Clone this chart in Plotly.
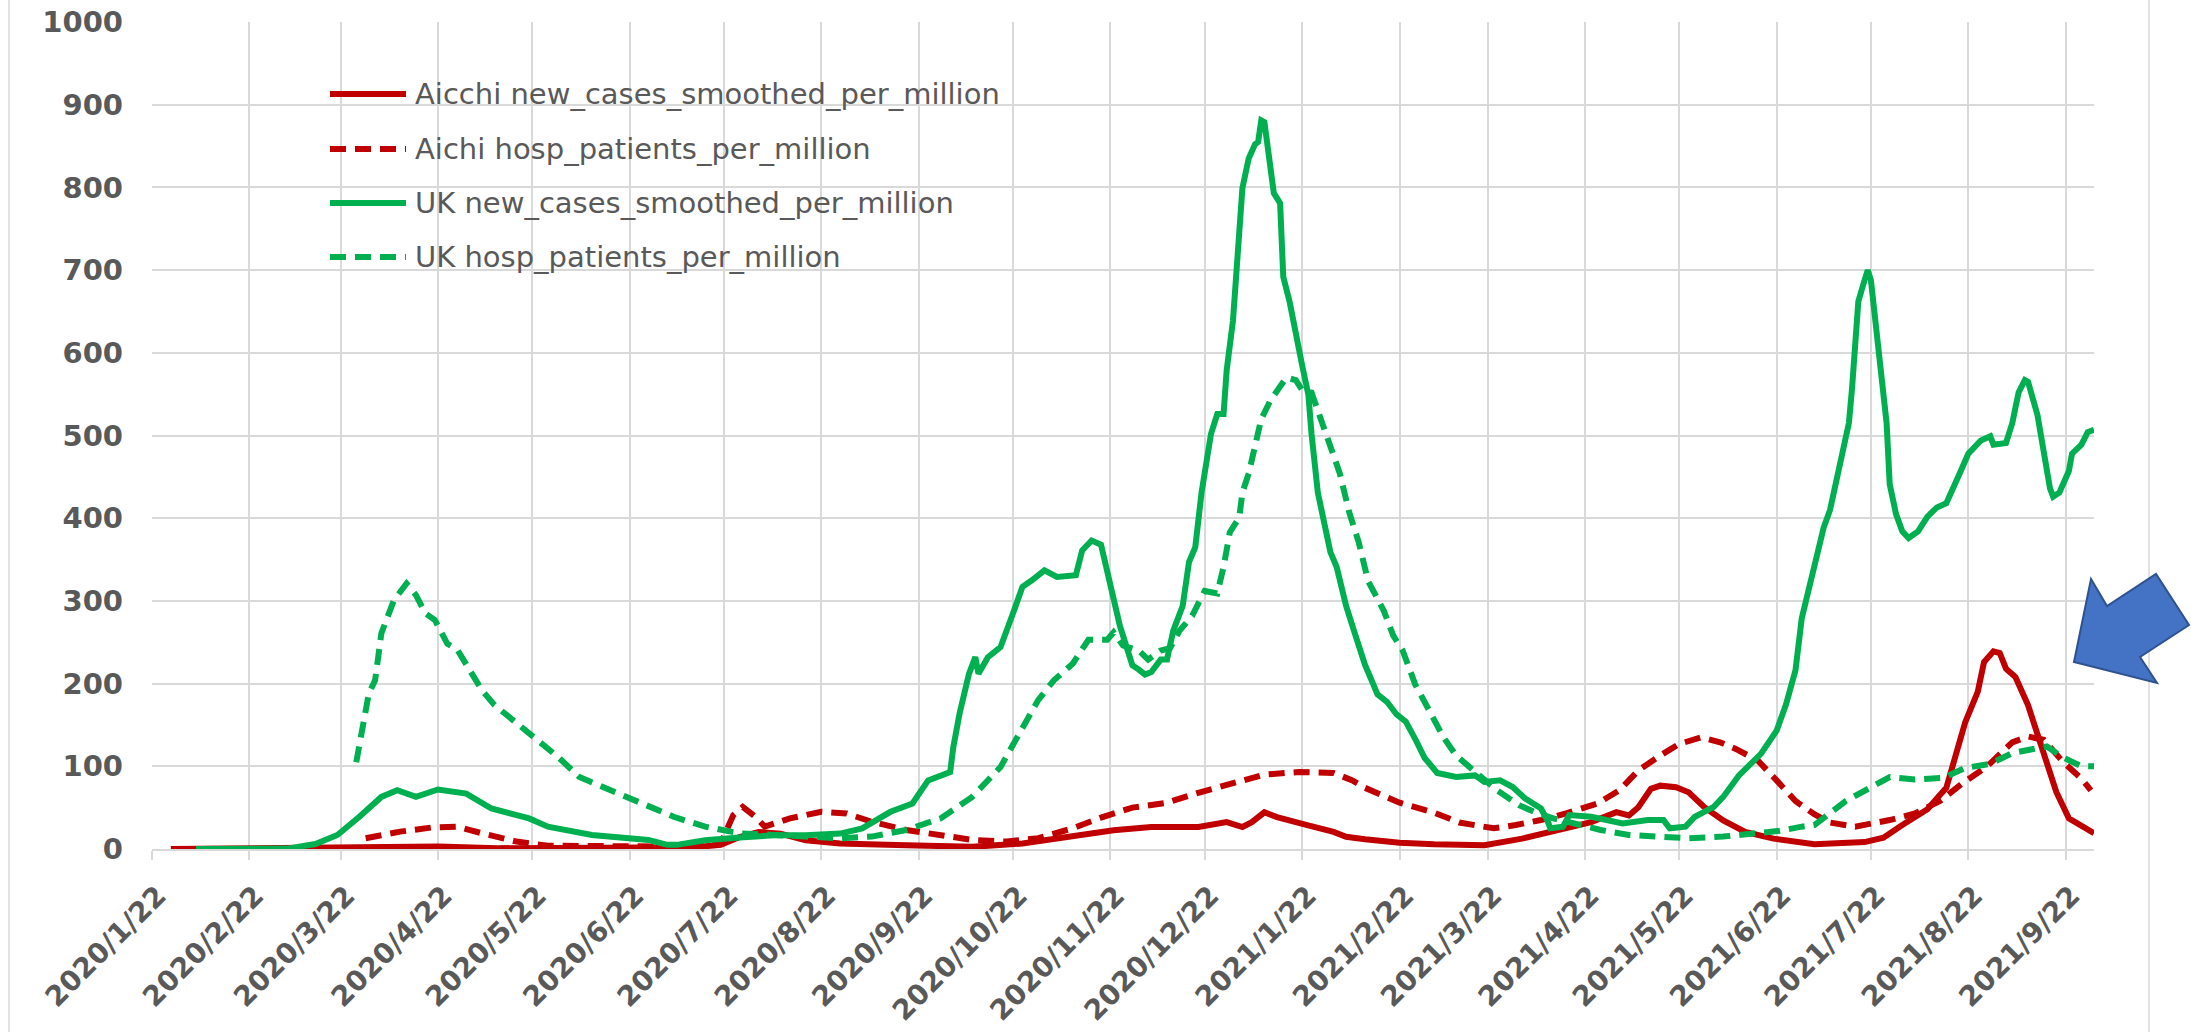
import plotly.graph_objects as go

# ---- Aichi: new cases (7-day smoothed) per million ----
aichi_cases_dates = [
    "2020-01-28", "2020-03-22", "2020-04-11", "2020-04-22", "2020-05-11", "2020-06-20",
    "2020-07-05", "2020-07-12", "2020-07-21", "2020-07-27", "2020-08-02", "2020-08-09",
    "2020-08-17", "2020-08-28", "2020-09-18", "2020-10-09", "2020-10-25", "2020-11-10",
    "2020-11-23", "2020-12-05", "2020-12-20", "2020-12-29", "2021-01-03", "2021-01-06",
    "2021-01-10", "2021-01-14", "2021-01-18", "2021-01-23", "2021-02-01", "2021-02-05",
    "2021-02-11", "2021-02-22", "2021-03-05", "2021-03-13", "2021-03-21", "2021-04-02",
    "2021-04-13", "2021-04-24", "2021-05-02", "2021-05-06", "2021-05-09", "2021-05-13",
    "2021-05-16", "2021-05-21", "2021-05-25", "2021-05-30", "2021-06-05", "2021-06-12",
    "2021-06-21", "2021-06-30", "2021-07-04", "2021-07-20", "2021-07-26", "2021-08-01",
    "2021-08-09", "2021-08-15", "2021-08-18", "2021-08-21", "2021-08-25", "2021-08-27",
    "2021-08-30", "2021-09-01", "2021-09-03", "2021-09-06", "2021-09-10", "2021-09-13",
    "2021-09-16", "2021-09-19", "2021-09-23", "2021-09-27", "2021-10-01",
]
aichi_cases = [
    0, 1, 3, 3, 1, 0.5,
    1, 2, 5, 14.5, 20.6, 18.6,
    10.6, 6.6, 4.6, 2.6, 6.6, 14.5,
    22.6, 26.6, 26.6, 32.5, 26.6, 32.5,
    44.4, 38.5, 34, 29.5, 20.6, 14.7,
    11.7, 7.6, 5.8, 5.8, 4.6, 12.5,
    22.6, 32.5, 44.6, 40.6, 50.6, 72.7,
    76.6, 74.7, 68.6, 50.6, 34.5, 20.6,
    12.5, 7, 5.8, 8.4, 13.6, 29,
    48, 74, 116, 153, 190, 226,
    239, 237, 218, 208, 174, 137,
    100, 69, 37, 27, 19,
]

# ---- Aichi: hospitalised patients per million ----
aichi_hosp_dates = [
    "2020-03-30", "2020-04-10", "2020-04-20", "2020-04-28", "2020-05-06", "2020-05-17",
    "2020-05-27", "2020-06-14", "2020-07-05", "2020-07-18", "2020-07-21", "2020-07-25",
    "2020-07-28", "2020-08-01", "2020-08-04", "2020-08-12", "2020-08-22", "2020-08-30",
    "2020-09-07", "2020-09-18", "2020-09-29", "2020-10-09", "2020-10-20", "2020-10-30",
    "2020-11-10", "2020-11-19", "2020-11-29", "2020-12-10", "2020-12-20", "2020-12-31",
    "2021-01-10", "2021-01-21", "2021-02-01", "2021-02-07", "2021-02-11", "2021-02-22",
    "2021-03-05", "2021-03-13", "2021-03-24", "2021-03-31", "2021-04-08", "2021-04-16",
    "2021-04-26", "2021-05-03", "2021-05-09", "2021-05-16", "2021-05-22", "2021-05-29",
    "2021-06-04", "2021-06-09", "2021-06-16", "2021-06-22", "2021-06-28", "2021-07-04",
    "2021-07-09", "2021-07-17", "2021-07-28", "2021-08-05", "2021-08-13", "2021-08-20",
    "2021-08-28", "2021-09-05", "2021-09-10", "2021-09-15", "2021-09-21", "2021-09-27",
    "2021-09-30",
]
aichi_hosp = [
    13, 21, 26, 27, 19, 9,
    4, 3, 3, 4, 7, 41,
    51, 39, 27, 37, 45, 43,
    33, 23, 17, 11, 9, 13,
    25, 38, 50, 56, 68, 80,
    90, 93, 92, 83, 74, 56,
    44, 32, 25, 29, 35, 43,
    55, 71, 95, 113, 127, 135,
    129, 121, 107, 83, 58, 42,
    32, 27, 35, 43, 58, 79,
    100, 129, 136, 132, 106, 85,
    71,
]

# ---- UK: new cases (7-day smoothed) per million ----
uk_cases_dates = [
    "2020-02-05", "2020-03-05", "2020-03-14", "2020-03-21", "2020-03-28", "2020-04-04",
    "2020-04-09", "2020-04-15", "2020-04-22", "2020-05-01", "2020-05-09", "2020-05-21",
    "2020-05-27", "2020-06-10", "2020-06-28", "2020-07-04", "2020-07-07", "2020-07-16",
    "2020-07-27", "2020-08-07", "2020-08-17", "2020-08-28", "2020-09-04", "2020-09-13",
    "2020-09-20", "2020-09-25", "2020-10-02", "2020-10-03", "2020-10-05", "2020-10-08",
    "2020-10-10", "2020-10-11", "2020-10-14", "2020-10-18", "2020-10-22", "2020-10-25",
    "2020-10-28", "2020-11-01", "2020-11-05", "2020-11-11", "2020-11-13", "2020-11-16",
    "2020-11-19", "2020-11-21", "2020-11-23", "2020-11-25", "2020-11-27", "2020-11-29",
    "2020-12-01", "2020-12-03", "2020-12-05", "2020-12-08", "2020-12-10", "2020-12-12",
    "2020-12-15", "2020-12-17", "2020-12-19", "2020-12-21", "2020-12-24", "2020-12-26",
    "2020-12-28", "2020-12-29", "2020-12-31", "2021-01-01", "2021-01-03", "2021-01-05",
    "2021-01-07", "2021-01-08", "2021-01-09", "2021-01-10", "2021-01-13", "2021-01-15",
    "2021-01-16", "2021-01-18", "2021-01-20", "2021-01-22", "2021-01-24", "2021-01-25",
    "2021-01-27", "2021-01-31", "2021-02-02", "2021-02-05", "2021-02-08", "2021-02-11",
    "2021-02-15", "2021-02-18", "2021-02-21", "2021-02-24", "2021-02-27", "2021-03-02",
    "2021-03-06", "2021-03-12", "2021-03-18", "2021-03-21", "2021-03-26", "2021-03-30",
    "2021-04-03", "2021-04-08", "2021-04-10", "2021-04-11", "2021-04-15", "2021-04-17",
    "2021-04-24", "2021-05-04", "2021-05-12", "2021-05-17", "2021-05-19", "2021-05-24",
    "2021-05-27", "2021-06-02", "2021-06-05", "2021-06-10", "2021-06-17", "2021-06-22",
    "2021-06-25", "2021-06-28", "2021-06-30", "2021-07-03", "2021-07-05", "2021-07-07",
    "2021-07-09", "2021-07-11", "2021-07-13", "2021-07-15", "2021-07-16", "2021-07-17",
    "2021-07-18", "2021-07-20", "2021-07-21", "2021-07-22", "2021-07-23", "2021-07-25",
    "2021-07-27", "2021-07-28", "2021-07-30", "2021-08-01", "2021-08-03", "2021-08-06",
    "2021-08-09", "2021-08-12", "2021-08-15", "2021-08-19", "2021-08-22", "2021-08-26",
    "2021-08-29", "2021-08-30", "2021-09-03", "2021-09-05", "2021-09-07", "2021-09-09",
    "2021-09-10", "2021-09-13", "2021-09-15", "2021-09-17", "2021-09-18", "2021-09-20",
    "2021-09-23", "2021-09-24", "2021-09-27", "2021-09-29", "2021-10-01",
]
uk_cases = [
    0, 0.5, 6, 17, 39, 63,
    71, 63, 72, 67, 49, 37,
    27, 17, 11, 5, 5, 10.6,
    14, 16.6, 16.6, 18.6, 25, 45,
    55, 83, 93, 123, 164, 212,
    232, 212, 232, 244, 285, 317,
    325, 337, 329, 331, 361, 373,
    368, 335, 300, 270, 246, 222,
    217, 211, 214, 229, 229, 264,
    294, 347, 365, 431, 502, 526,
    526, 579, 639, 690, 799, 835,
    852, 855, 881, 879, 793, 781,
    692, 662, 621, 585, 549, 502,
    431, 359, 341, 294, 258, 223,
    187, 178, 163, 154, 133, 110,
    92, 87, 89, 81, 83, 75,
    61, 49, 35, 25, 27, 41,
    39, 31, 35, 35, 25, 27,
    39, 51, 63, 89, 115, 143,
    175, 216, 279, 326, 363, 389,
    410, 447, 483, 515, 557, 609,
    662, 688, 700, 688, 651, 573,
    515, 441, 405, 384, 376, 384,
    402, 413, 418, 452, 478, 494,
    499, 489, 491, 515, 552, 567,
    565, 525, 478, 436, 426, 431,
    457, 478, 489, 504, 507,
]

# ---- UK: hospitalised patients per million ----
uk_hosp_dates = [
    "2020-03-27", "2020-03-31", "2020-04-02", "2020-04-04", "2020-04-08", "2020-04-12",
    "2020-04-15", "2020-04-18", "2020-04-21", "2020-04-25", "2020-04-28", "2020-05-02",
    "2020-05-06", "2020-05-10", "2020-05-17", "2020-05-23", "2020-05-30", "2020-06-06",
    "2020-06-16", "2020-06-25", "2020-07-06", "2020-07-16", "2020-07-27", "2020-08-07",
    "2020-08-17", "2020-08-28", "2020-09-07", "2020-09-18", "2020-09-29", "2020-10-09",
    "2020-10-18", "2020-10-25", "2020-10-30", "2020-11-04", "2020-11-10", "2020-11-15",
    "2020-11-19", "2020-11-21", "2020-11-23", "2020-11-26", "2020-12-01", "2020-12-04",
    "2020-12-08", "2020-12-11", "2020-12-14", "2020-12-18", "2020-12-22", "2020-12-26",
    "2020-12-28", "2020-12-30", "2021-01-02", "2021-01-03", "2021-01-05", "2021-01-07",
    "2021-01-09", "2021-01-12", "2021-01-15", "2021-01-17", "2021-01-20", "2021-01-22",
    "2021-01-25", "2021-01-28", "2021-01-31", "2021-02-03", "2021-02-06", "2021-02-09",
    "2021-02-12", "2021-02-17", "2021-02-20", "2021-02-23", "2021-02-27", "2021-03-04",
    "2021-03-08", "2021-03-12", "2021-03-15", "2021-03-25", "2021-04-01", "2021-04-07",
    "2021-04-12", "2021-04-18", "2021-04-27", "2021-05-06", "2021-05-15", "2021-05-25",
    "2021-06-05", "2021-06-16", "2021-06-23", "2021-06-30", "2021-07-04", "2021-07-14",
    "2021-07-22", "2021-07-28", "2021-08-05", "2021-08-14", "2021-08-21", "2021-08-29",
    "2021-09-05", "2021-09-12", "2021-09-16", "2021-09-21", "2021-09-27", "2021-10-01",
]
uk_hosp = [
    105, 188, 204, 261, 301, 321,
    307, 285, 277, 248, 242, 216,
    192, 174, 152, 132, 112, 87,
    71, 56, 39, 27, 19, 17,
    15, 13, 15, 23, 37, 63,
    99, 148, 180, 204, 224, 253,
    252, 253, 262, 246, 240, 229,
    240, 243, 264, 282, 312, 309,
    341, 383, 401, 431, 454, 484,
    520, 543, 558, 570, 567, 555,
    552, 520, 490, 454, 407, 371,
    324, 288, 258, 240, 199, 163,
    135, 113, 103, 71, 53, 43,
    37, 31, 23, 17, 15, 13,
    15, 19, 22, 27, 29, 58,
    74, 87, 84, 86, 98, 103,
    116, 121, 124, 111, 100, 100,
]

# ---- axis ticks ----
tick_dates = [
    "2020-01-22", "2020-02-22", "2020-03-22", "2020-04-22", "2020-05-22", "2020-06-22",
    "2020-07-22", "2020-08-22", "2020-09-22", "2020-10-22", "2020-11-22", "2020-12-22",
    "2021-01-22", "2021-02-22", "2021-03-22", "2021-04-22", "2021-05-22", "2021-06-22",
    "2021-07-22", "2021-08-22", "2021-09-22",
]
tick_labels = [
    "2020/1/22", "2020/2/22", "2020/3/22", "2020/4/22", "2020/5/22", "2020/6/22",
    "2020/7/22", "2020/8/22", "2020/9/22", "2020/10/22", "2020/11/22", "2020/12/22",
    "2021/1/22", "2021/2/22", "2021/3/22", "2021/4/22", "2021/5/22", "2021/6/22",
    "2021/7/22", "2021/8/22", "2021/9/22",
]
y_ticks = list(range(0, 1001, 100))

series_names = [
    "Aicchi new_cases_smoothed_per_million",
    "Aichi hosp_patients_per_million",
    "UK new_cases_smoothed_per_million",
    "UK hosp_patients_per_million",
]

RED = "#C00000"
GREEN = "#00B050"
GRID = "#D9D9D9"
TEXT = "#595959"
DASH = "16px,9px"
LINE_W = 6

W, H = 2191, 1032
PLOT_L, PLOT_R, PLOT_T, PLOT_B = 152, 2094, 22, 849


def px(x):
    """Pixel column -> paper x."""
    return (x - PLOT_L) / (PLOT_R - PLOT_L)


def py(y):
    """Pixel row -> paper y."""
    return (PLOT_B - y) / (PLOT_B - PLOT_T)


styles = [(RED, "solid"), (RED, DASH), (GREEN, "solid"), (GREEN, DASH)]
data = [
    (aichi_cases_dates, aichi_cases),
    (aichi_hosp_dates, aichi_hosp),
    (uk_cases_dates, uk_cases),
    (uk_hosp_dates, uk_hosp),
]

fig = go.Figure()
for name, (xs, ys), (color, dash) in zip(series_names, data, styles):
    fig.add_trace(go.Scatter(
        x=xs, y=ys, name=name, mode="lines",
        line=dict(color=color, width=LINE_W, dash=dash),
        showlegend=False, hoverinfo="skip",
    ))

# Legend drawn inside the plot area: sample stroke + label per series
legend_rows = [94, 149, 203, 257]
shapes = []
annotations = []
for row, name, (color, dash) in zip(legend_rows, series_names, styles):
    shapes.append(dict(
        type="line", xref="paper", yref="paper",
        x0=px(330), x1=px(406), y0=py(row), y1=py(row),
        line=dict(color=color, width=LINE_W, dash=dash),
    ))
    annotations.append(dict(
        xref="paper", yref="paper", x=px(413), y=py(row),
        xanchor="left", yanchor="middle", text=name, showarrow=False,
        font=dict(family="DejaVu Sans", size=29, color=TEXT),
    ))

# Chart-area frame (left and right edges)
for xe in (9, 2149):
    shapes.append(dict(
        type="line", xref="paper", yref="paper", layer="below",
        x0=px(xe), x1=px(xe), y0=py(-10), y1=py(1045),
        line=dict(color=GRID, width=1.5),
    ))

# Block arrow pointing at the latest Aichi wave
arrow_pts = [(2074, 662), (2091, 579), (2107, 606), (2156, 574),
             (2189, 625), (2140, 657), (2157, 683)]
path = "M " + " L ".join(f"{px(x):.5f},{py(y):.5f}" for x, y in arrow_pts) + " Z"
shapes.append(dict(
    type="path", xref="paper", yref="paper", path=path,
    fillcolor="#4472C4", line=dict(color="#2F528F", width=2),
))

fig.update_layout(
    width=W, height=H, autosize=False,
    margin=dict(l=PLOT_L, r=W - PLOT_R, t=PLOT_T, b=H - PLOT_B, pad=0),
    paper_bgcolor="white", plot_bgcolor="white",
    shapes=shapes, annotations=annotations,
    showlegend=False,
)
fig.update_xaxes(
    type="date", range=["2020-01-22", "2021-10-01"], automargin=False,
    tickmode="array", tickvals=tick_dates, ticktext=tick_labels,
    tickangle=-45, ticks="outside", ticklen=9, tickwidth=1.5, tickcolor=GRID,
    ticklabelstandoff=8, ticklabelshift=6,
    showgrid=True, gridcolor=GRID, gridwidth=1.5,
    showline=True, linecolor=GRID, linewidth=2,
    tickfont=dict(family="DejaVu Sans", size=28, color=TEXT, weight="bold"),
    zeroline=False,
)
fig.update_yaxes(
    range=[0, 1000], tickmode="array", tickvals=y_ticks, automargin=False,
    showgrid=True, gridcolor=GRID, gridwidth=1.5, zeroline=False,
    showline=False, ticks="", ticklabelstandoff=28,
    tickfont=dict(family="DejaVu Sans", size=29, color=TEXT, weight="bold"),
)

fig.write_html("out.html")
